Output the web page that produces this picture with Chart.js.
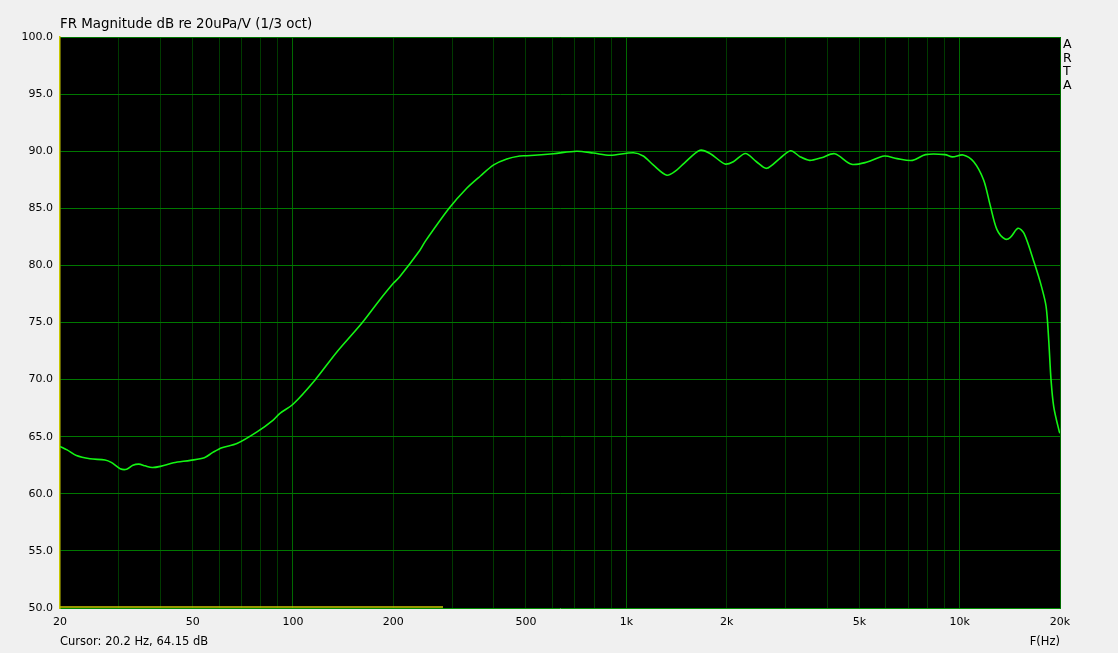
<!DOCTYPE html>
<html>
<head>
<meta charset="utf-8">
<script src="https://cdn.jsdelivr.net/npm/chart.js@4"></script>
<style>
  body { margin: 0; background: #f0f0f0; }
  #wrap { position: relative; width: 1118px; height: 653px; font-family: "DejaVu Sans", sans-serif; color: #000; }
  #wrap canvas { position: absolute; left: 0; top: 0; }
  .txt { position: absolute; white-space: nowrap; }
  #title { left: 60px; top: 16px; font-size: 13.4px; }
  #cursor { left: 60px; top: 634px; font-size: 11.5px; }
  #fhz { right: 58px; top: 634px; font-size: 11.5px; }
  #arta { left: 1063px; top: 37px; font-size: 12.5px; line-height: 13.5px; }
</style>
</head>
<body>
<div id="wrap">
  <canvas id="fr" width="1118" height="653"></canvas>
  <div class="txt" id="title">FR Magnitude dB re 20uPa/V (1/3 oct)</div>
  <div class="txt" id="cursor">Cursor: 20.2 Hz, 64.15 dB</div>
  <div class="txt" id="fhz">F(Hz)</div>
  <div class="txt" id="arta">A<br>R<br>T<br>A</div>
</div>
<script>
const freqs = [20, 21, 22.4, 24.6, 27.3, 28.5, 30.3, 31.7, 33.1, 34.5, 36, 37.8, 40, 43.8, 49.2,
  54.2, 57.5, 61.2, 67.9, 78.2, 87.2, 91.4, 100, 116.5, 135.6, 160.8, 182, 200, 209, 240, 249,
  294, 332, 365, 400, 438, 479, 503, 604, 710, 796, 894, 1050, 1124, 1204, 1323, 1416, 1490,
  1664, 1783, 1978, 2094, 2277, 2452, 2636, 2890, 3112, 3320, 3548, 3850, 4220, 4740, 5280,
  5940, 6490, 7220, 7900, 9040, 9510, 10240, 11020, 11800, 12340, 12930, 13680, 14200, 14960,
  15600, 16760, 17600, 18170, 18500, 18800, 19160, 19900, 20000];
const levels = [64.15, 63.85, 63.35, 63.07, 62.96, 62.75, 62.2, 62.15, 62.5, 62.6, 62.45, 62.3, 62.4, 62.72, 62.93,
  63.16, 63.63, 64.04, 64.4, 65.44, 66.46, 67.05, 67.84, 69.97, 72.44, 74.93, 76.97, 78.43, 79.0, 81.3, 82.08,
  85.0, 86.75, 87.83, 88.8, 89.32, 89.58, 89.6, 89.78, 90.0, 89.84, 89.64, 89.87, 89.58, 88.8, 87.9, 88.35, 88.94,
  90.08, 89.8, 88.88, 89.08, 89.8, 89.1, 88.5, 89.38, 90.04, 89.52, 89.2, 89.43, 89.78, 88.85, 89.05,
  89.58, 89.35, 89.2, 89.7, 89.7, 89.5, 89.67, 89.08, 87.48, 85.3, 83.16, 82.31, 82.46, 83.25,
  82.8, 80.18, 78.14, 76.4, 73.47, 69.97, 67.6, 65.44, 65.3];

const gridFreqs = [20, 30, 40, 50, 60, 70, 80, 90, 100, 200, 300, 400, 500, 600, 700, 800, 900,
  1000, 2000, 3000, 4000, 5000, 6000, 7000, 8000, 9000, 10000, 20000];
const freqLabels = { 20: '20', 50: '50', 100: '100', 200: '200', 500: '500', 1000: '1k',
  2000: '2k', 5000: '5k', 10000: '10k', 20000: '20k' };
const dbTicks = [50, 55, 60, 65, 70, 75, 80, 85, 90, 95, 100];

const plotBg = {
  id: 'plotBg',
  beforeDraw(chart) {
    const a = chart.chartArea, c = chart.ctx;
    c.save();
    c.fillStyle = '#000';
    c.fillRect(a.left, a.top, a.right - a.left, a.bottom - a.top);
    c.restore();
  },
  afterDraw(chart) {
    // yellow scroll marker along the bottom edge
    const a = chart.chartArea, c = chart.ctx;
    c.save();
    c.strokeStyle = 'rgb(200,200,0)';
    c.lineWidth = 1.5;
    c.beginPath();
    c.moveTo(a.left, a.bottom - 1);
    c.lineTo(a.left + (a.right - a.left) * 0.383, a.bottom - 1);
    c.stroke();
    c.restore();
  }
};

new Chart(document.getElementById('fr'), {
  type: 'line',
  data: {
    datasets: [{
      data: freqs.map((f, i) => ({ x: f, y: levels[i] })),
      borderColor: 'rgb(20,245,20)',
      borderWidth: 1.6,
      pointRadius: 0,
      tension: 0.3,
      fill: false
    }]
  },
  options: {
    responsive: false,
    animation: false,
    layout: { padding: { left: 0, top: 37, right: 58, bottom: 0 } },
    plugins: { legend: { display: false }, tooltip: { enabled: false } },
    scales: {
      x: {
        type: 'logarithmic',
        min: 20,
        max: 20000,
        afterBuildTicks(scale) { scale.ticks = gridFreqs.map(v => ({ value: v })); },
        afterFit(scale) { scale.height = 45; },
        ticks: {
          autoSkip: false,
          maxRotation: 0,
          padding: 8,
          color: '#000',
          font: { family: 'DejaVu Sans', size: 11 },
          callback: v => freqLabels[v] || ''
        },
        grid: {
          drawTicks: false,
          lineWidth: 1,
          color: ctx => {
            const v = ctx.tick ? ctx.tick.value : 0;
            if (v === 20) return 'rgba(0,0,0,0)';
            if (v === 100 || v === 1000 || v === 10000 || v === 20000) return 'rgb(0,105,0)';
            return 'rgb(0,58,0)';
          }
        },
        border: { color: 'rgb(0,140,0)', width: 1 }
      },
      y: {
        min: 50,
        max: 100,
        afterBuildTicks(scale) { scale.ticks = dbTicks.map(v => ({ value: v })); },
        afterFit(scale) { scale.width = 60; },
        ticks: {
          padding: 7,
          color: '#000',
          font: { family: 'DejaVu Sans', size: 11 },
          callback: v => v.toFixed(1)
        },
        grid: {
          drawTicks: false,
          lineWidth: 1,
          color: ctx => (ctx.tick && ctx.tick.value === 50) ? 'rgba(0,0,0,0)' : 'rgb(0,120,0)'
        },
        border: { color: 'rgb(200,200,0)', width: 1.5 }
      }
    }
  },
  plugins: [plotBg]
});
</script>
</body>
</html>
